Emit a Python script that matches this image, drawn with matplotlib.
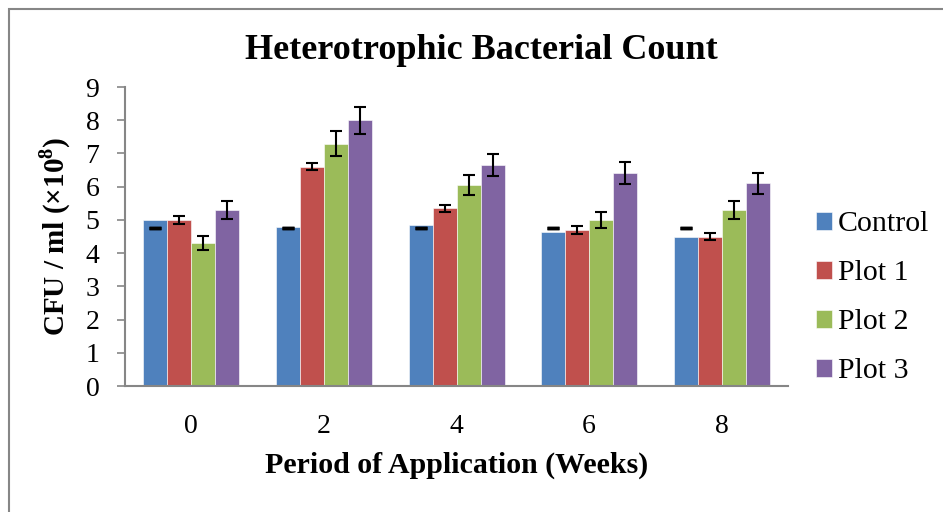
import numpy as np
import matplotlib.pyplot as plt
from matplotlib.patches import Rectangle

# Data
weeks = ['0', '2', '4', '6', '8']
series = ['Control', 'Plot 1', 'Plot 2', 'Plot 3']
control = [5.0, 4.8, 4.85, 4.65, 4.5]
plot1 = [5.0, 6.6, 5.35, 4.7, 4.5]
plot2 = [4.3, 7.3, 6.05, 5.0, 5.3]
plot3 = [5.3, 8.0, 6.65, 6.4, 6.1]
plot1_err = [0.11, 0.11, 0.11, 0.11, 0.1]
plot2_err = [0.22, 0.37, 0.31, 0.25, 0.27]
plot3_err = [0.27, 0.41, 0.34, 0.33, 0.31]
# the control error bars show up as flat dashes at the same height in every group
control_dash = [4.75, 4.75, 4.75, 4.75, 4.75]

colors = ['#4F81BD', '#C0504D', '#9BBB59', '#8064A2']

plt.rcParams['font.family'] = ['Liberation Serif', 'DejaVu Serif']
plt.rcParams['mathtext.fontset'] = 'custom'
plt.rcParams['mathtext.rm'] = 'Liberation Serif'
plt.rcParams['mathtext.bf'] = 'Liberation Serif:bold'

fig = plt.figure(figsize=(9.43, 5.12), dpi=100)
ax = fig.add_axes([0.1326, 0.246, 0.8356 - 0.1326, 0.830 - 0.246])

# outer chart frame
fig.patches.append(Rectangle((8.5 / 943, -0.05), 1.1, 1 + 0.05 - 8.5 / 512,
                             transform=fig.transFigure, fill=False,
                             edgecolor='#868686', linewidth=1.5))

x = np.arange(len(weeks))
w = 0.181
values = [control, plot1, plot2, plot3]
errs = [None, plot1_err, plot2_err, plot3_err]
for i in range(4):
    pos = x + (i - 1.5) * w
    ax.bar(pos, values[i], w, color=colors[i], label=series[i],
           edgecolor='white', linewidth=0.4, zorder=2)
    if errs[i] is not None:
        ax.errorbar(pos, values[i], yerr=errs[i], fmt='none', ecolor='black',
                    elinewidth=1.5, capsize=4.3, capthick=1.5, zorder=3)
    else:
        ax.errorbar(pos, control_dash, yerr=0, fmt='none', ecolor='black',
                    elinewidth=1.5, capsize=4.3, capthick=2.5, zorder=3)

ax.set_xlim(-0.5, len(weeks) - 0.5)
ax.set_ylim(0, 9)
ax.set_yticks(range(10))
ax.set_xticks(x)
ax.set_xticklabels(weeks)
ax.tick_params(axis='x', length=0, labelsize=20, pad=20)
ax.tick_params(axis='y', length=5.5, width=1.2, color='#868686', labelsize=20, pad=13)
for s in ['top', 'right']:
    ax.spines[s].set_visible(False)
for s in ['left', 'bottom']:
    ax.spines[s].set_color('#868686')
    ax.spines[s].set_linewidth(1.5)

ax.set_title('Heterotrophic Bacterial Count', fontsize=26, fontweight='bold',
             pad=20, x=0.538)
ax.set_xlabel('Period of Application (Weeks)', fontsize=21.5, fontweight='bold', labelpad=9)
ax.set_ylabel(r'CFU / ml (×10$^{\mathbf{8}}$)', fontsize=21, fontweight='bold', labelpad=9)

ax.legend(loc='center left', bbox_to_anchor=(1.042, 0.295), frameon=False,
          fontsize=21.5, handlelength=0.54, handleheight=0.54, handletextpad=0.2,
          labelspacing=0.77, borderpad=0, borderaxespad=0)

fig.savefig('out.png', dpi=100)
